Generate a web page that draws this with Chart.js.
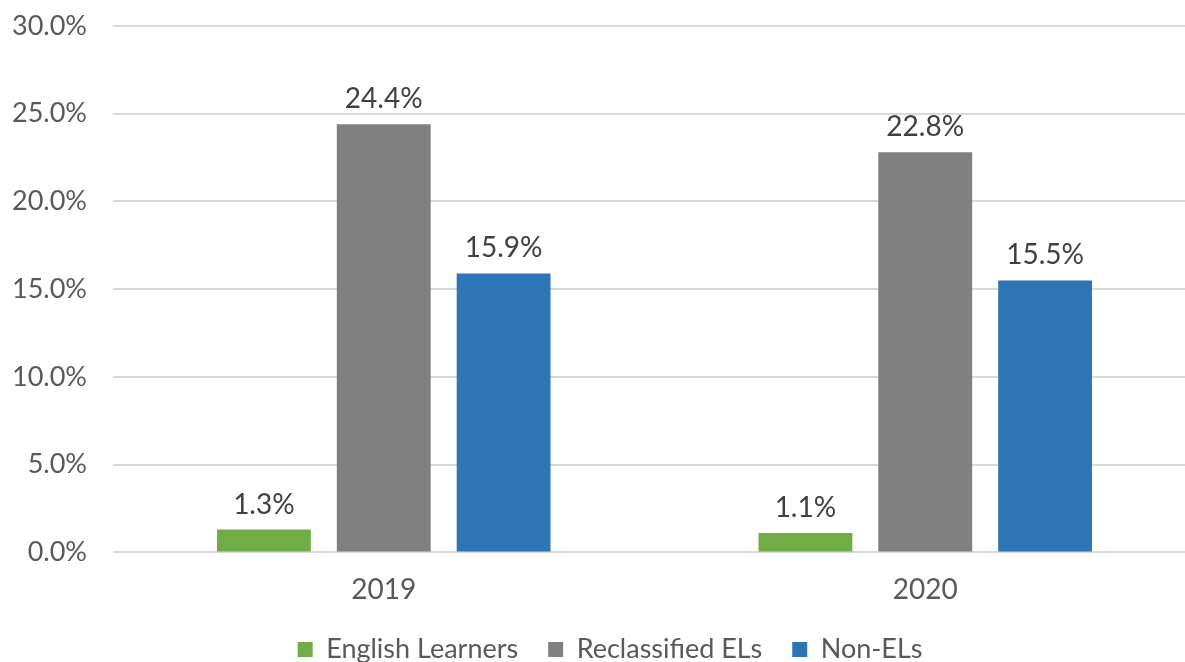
<!DOCTYPE html>
<html>
<head>
<meta charset="utf-8">
<script src="https://cdn.jsdelivr.net/npm/chart.js@4/dist/chart.umd.min.js"></script>
<style>
  html, body { margin: 0; padding: 0; background: #fff; overflow: hidden; }
  #wrap { width: 1196px; height: 662px; }
</style>
</head>
<body>
<div id="wrap"><canvas id="chart"></canvas></div>
<script>
// data
const years = ["2019", "2020"];
const englishLearners = [1.3, 1.1];
const reclassifiedELs = [24.4, 22.8];
const nonELs = [15.9, 15.5];

// draw the value above each bar
const valueLabels = {
    id: "valueLabels",
    afterLayout(chart) {
        // legend sits a bit right of centre in the original
        chart.legend.left += 12;
        chart.legend.right += 12;
    },
    afterDatasetsDraw(chart) {
        const ctx = chart.ctx;
        ctx.save();
        ctx.font = "28px Lato";
        ctx.fillStyle = "#404040";
        ctx.textAlign = "center";
        ctx.textBaseline = "bottom";
        chart.data.datasets.forEach((ds, i) => {
            chart.getDatasetMeta(i).data.forEach((bar, j) => {
                ctx.fillText(ds.data[j].toFixed(1) + "%", bar.x, bar.y - 11);
            });
        });
        ctx.restore();
    }
};

const ctx = document.getElementById("chart").getContext("2d");
new Chart(ctx, {
    type: "bar",
    data: {
        labels: years,
        datasets: [
            { label: "English Learners", data: englishLearners, backgroundColor: "#70AD47" },
            { label: "Reclassified ELs", data: reclassifiedELs, backgroundColor: "#808080" },
            { label: "Non-ELs", data: nonELs, backgroundColor: "#2E75B6" }
        ]
    },
    options: {
        responsive: true,
        maintainAspectRatio: false,
        animation: false,
        layout: { padding: { top: 26, bottom: -11 } },
        datasets: {
            bar: { categoryPercentage: 0.664, barPercentage: 0.783 }
        },
        scales: {
            x: {
                grid: { display: false },
                border: { display: false },
                ticks: { font: { family: "Lato", size: 28 }, color: "#595959", padding: 13 },
                afterFit: scale => { scale.height -= 14; }
            },
            y: {
                min: 0,
                max: 30,
                ticks: {
                    stepSize: 5,
                    font: { family: "Lato", size: 27 },
                    color: "#595959",
                    padding: 26,
                    callback: v => v.toFixed(1) + "%"
                },
                grid: { color: "#D9D9D9", lineWidth: 2, drawTicks: false },
                border: { display: false },
                afterFit: scale => { scale.width = 113; scale.paddingTop = 0; }
            }
        },
        plugins: {
            legend: {
                position: "bottom",
                labels: {
                    font: { family: "Lato", size: 27 },
                    color: "#595959",
                    boxWidth: 15,
                    boxHeight: 15,
                    padding: 30
                }
            },
            tooltip: { enabled: false }
        }
    },
    plugins: [valueLabels]
});
</script>
</body>
</html>
